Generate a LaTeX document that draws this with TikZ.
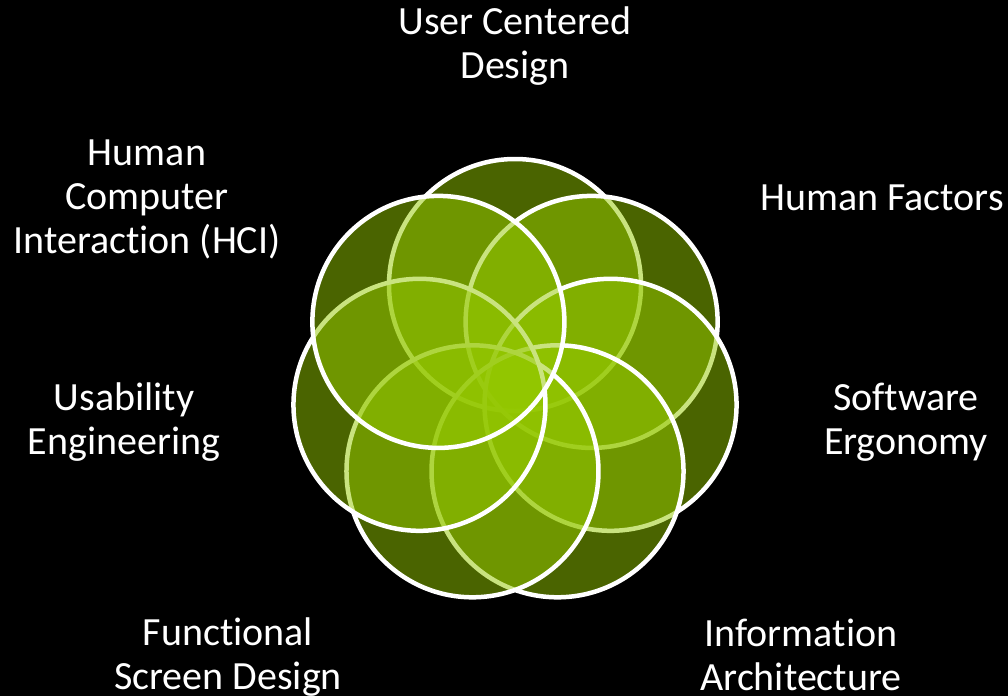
\documentclass[tikz,border=0pt]{standalone}
\usepackage{fontspec}
\setmainfont{Carlito}[Ligatures=NoCommon]
\definecolor{lime}{RGB}{148,200,0}
\tikzset{
  petal/.style={draw=white, line width=4.5pt, fill=lime, fill opacity=0.5},
  lbl/.style={text=white, align=center, inner sep=0pt, font=\fontsize{40}{44}\selectfont}
}
\begin{document}
\begin{tikzpicture}[x=1pt,y=-1pt]
\fill[black] (0,0) rectangle (1008,696);
\useasboundingbox (0,0) rectangle (1008,696);
\coordinate (c) at (515,383);
\foreach \k in {0,...,6}{
  \path (c) ++({-90+\k*360/7}:98) coordinate (p\k);
  \draw[petal] (p\k) circle (126);
}
\node[lbl] (ucd) at (515,46) {User Centered\\Design};
\node[lbl] (hf) at (882,198) {Human Factors};
\node[lbl] (se) at (906,422) {Software\\Ergonomy};
\node[lbl] (ia) at (801,655) {Information\\Architecture};
\node[lbl] (fsd) at (228,657) {Functional\\Screen Design};
\node[lbl] (ue) at (124,422) {Usability\\Engineering};
\node[lbl] (hci) at (147,199) {Human\\Computer\\Interaction (HCI)};
\end{tikzpicture}
\end{document}
